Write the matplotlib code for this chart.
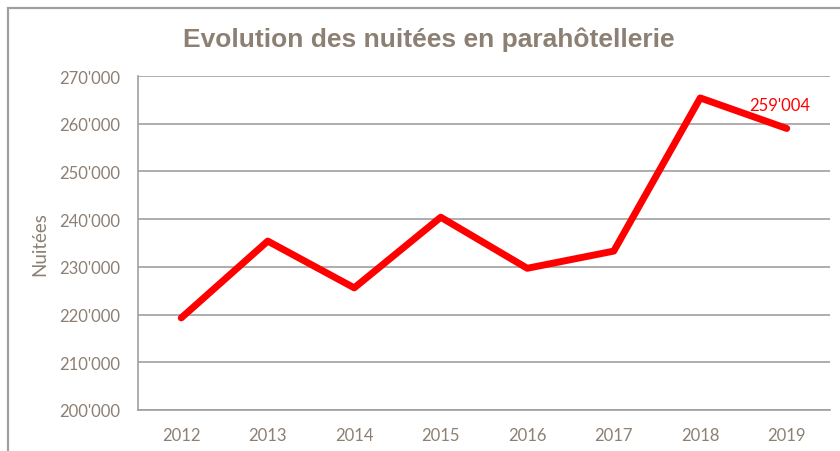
import matplotlib.pyplot as plt
from matplotlib.patches import Rectangle
from matplotlib.ticker import FuncFormatter

# Data
years = ['2012', '2013', '2014', '2015', '2016', '2017', '2018', '2019']
nuitees = [219300, 235400, 225600, 240400, 229700, 233300, 265400, 259004]
y_ticks = [200000, 210000, 220000, 230000, 240000, 250000, 260000, 270000]

text_col = '#8c7f73'
grid_col = '#a0a0a0'

fig = plt.figure(figsize=(8.4, 4.52), dpi=100)
ax = fig.add_axes([138 / 840, 1 - 411 / 452, (830 - 138) / 840, (411 - 77) / 452])

# outer chart frame (runs off the right and bottom edges)
fig.patches.append(Rectangle((7.5 / 840, -0.1), 1.2, 1 - 8.5 / 452 + 0.1,
                             transform=fig.transFigure, fill=False,
                             edgecolor=grid_col, linewidth=1.6))

x = range(len(years))
ax.plot(x, nuitees, color='#ff0000', linewidth=5, solid_capstyle='round',
        solid_joinstyle='round', zorder=3)
ax.annotate("259'004", (x[-1], nuitees[-1]), xytext=(-27, 17),
            textcoords='offset points', color='#ff0000', fontsize=12,
            family='Lato', ha='left', va='center')

ax.set_xlim(-0.5, len(years) - 0.5)
ax.set_ylim(200000, 270000)
ax.set_xticks(list(x))
ax.set_xticklabels(years)
ax.set_yticks(y_ticks)
ax.yaxis.set_major_formatter(FuncFormatter(lambda v, p: f"{int(v):,}".replace(',', "'")))
ax.grid(axis='y', color=grid_col, linewidth=1.2)
ax.set_axisbelow(True)
for s in ['top', 'right']:
    ax.spines[s].set_visible(False)
for s in ['left', 'bottom']:
    ax.spines[s].set_color(grid_col)
    ax.spines[s].set_linewidth(1.2)
ax.tick_params(length=0, colors=text_col, labelsize=12, pad=13)
ax.tick_params(axis='x', pad=12)
for lbl in ax.get_xticklabels() + ax.get_yticklabels():
    lbl.set_family('Lato')

ax.set_ylabel('Nuitées', color=text_col, fontsize=13.5, family='Lato', labelpad=8)
fig.text(429 / 840, 1 - 40 / 452, 'Evolution des nuitées en parahôtellerie',
         ha='center', va='center', fontsize=19, fontweight='bold',
         color=text_col, family='Liberation Sans')

fig.savefig('out.png', dpi=100)
